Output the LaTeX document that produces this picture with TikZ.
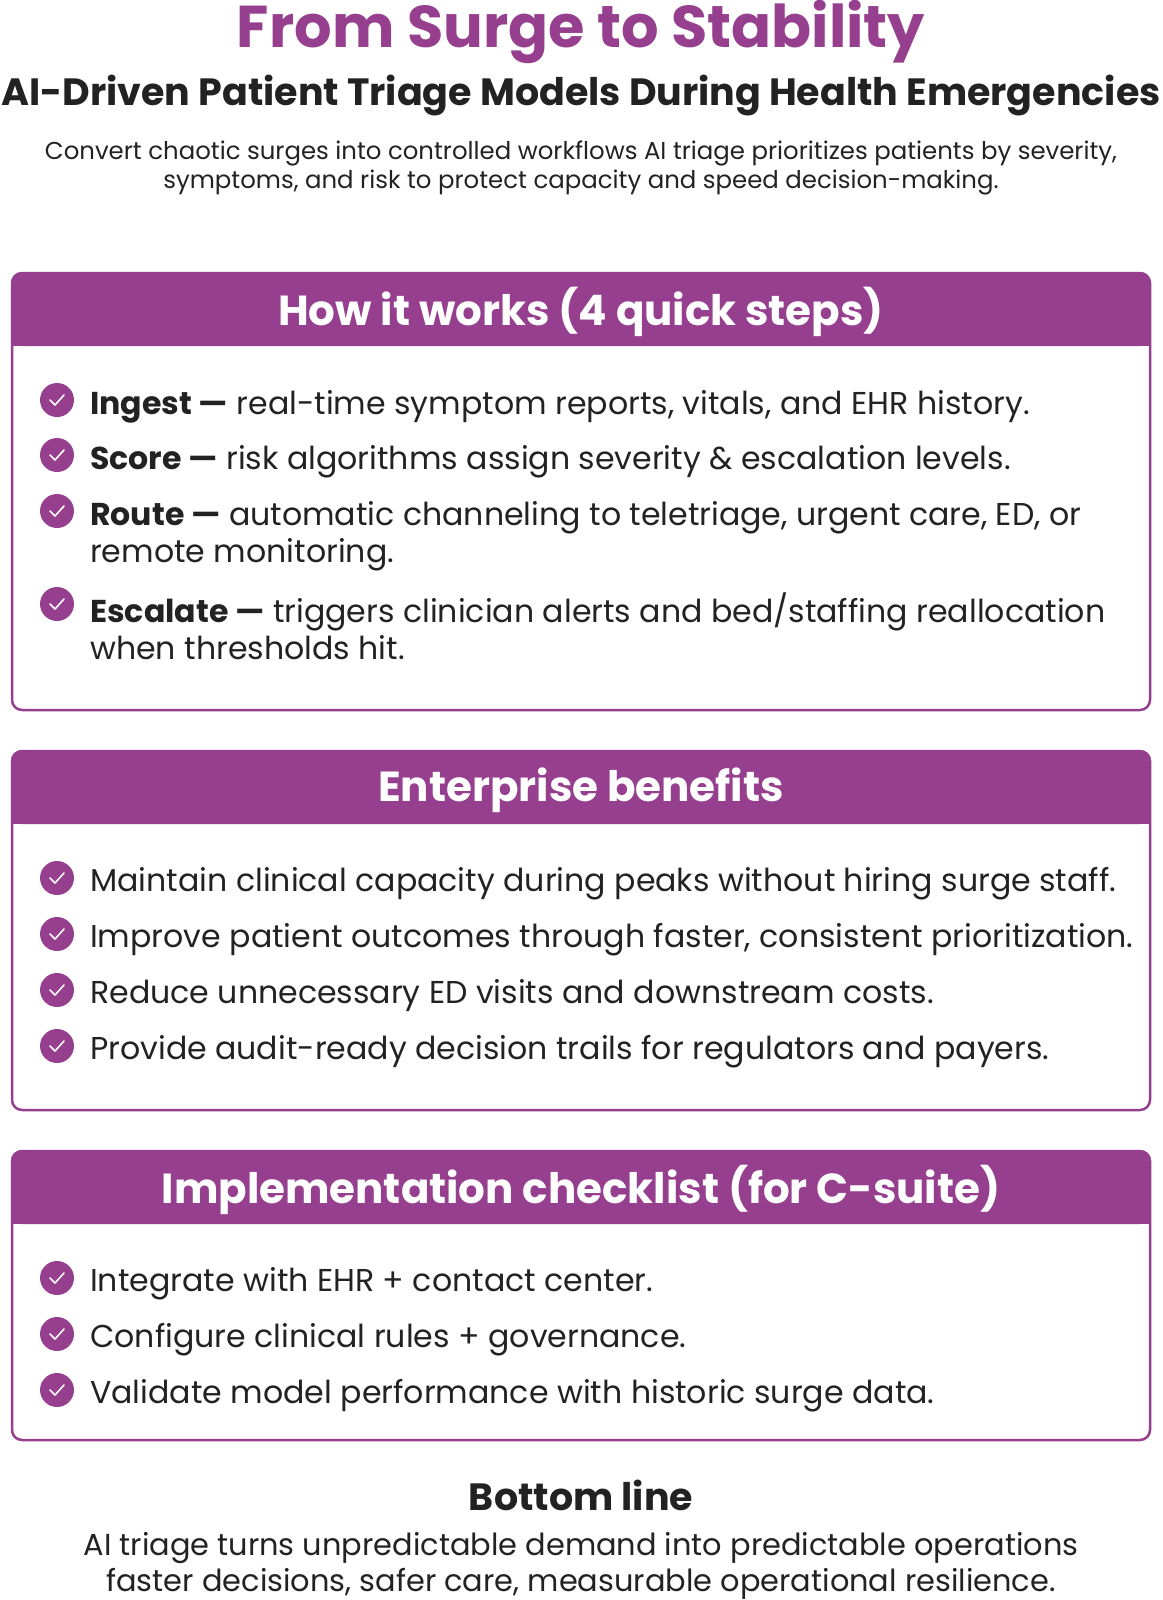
\documentclass[tikz,border=0pt]{standalone}
\usepackage{fontspec}
\setmainfont{Poppins}
\definecolor{pur}{HTML}{973F8F}
\definecolor{ink}{HTML}{222222}
\begin{document}
\begin{tikzpicture}[x=1pt,y=-1pt,
  box/.style={draw=pur,line width=2.5pt,rounded corners=10pt},
  head/.style={fill=pur,rounded corners=10pt},
  htext/.style={text=white,font=\fontsize{42}{50}\selectfont\bfseries},
  item/.style={anchor=west,align=left,text=ink,inner sep=0pt,font=\fontsize{31.6}{37}\selectfont},
  chk/.style={circle,fill=pur,minimum size=34pt,inner sep=0pt},
  tick/.style={white,line width=1.6pt,line cap=round,line join=round}]
\useasboundingbox (0,0) rectangle (1162,1600);
\node[text=pur,font=\fontsize{59}{70}\selectfont\bfseries] (t) at (581,32) {From Surge to Stability};
\node[text=ink,font=\fontsize{38}{44}\selectfont\bfseries] (st) at (581,96) {AI-Driven Patient Triage Models During Health Emergencies};
\node[text=ink,align=center,font=\fontsize{24.4}{29}\selectfont] (d) at (581,168) {Convert chaotic surges into controlled workflows AI triage prioritizes patients by severity,\\symptoms, and risk to protect capacity and speed decision-making.};
% box 1
\draw[box] (12,273) rectangle (1150,710);
\fill[head] (12,273) rectangle (1150,346);
\fill[pur] (13,330) rectangle (1149,346);
\node[htext] (h1) at (581,312) {How it works (4 quick steps)};
\foreach \y/\n in {400/a1,455/a2,511/a3,604/a4}{\node[chk] (\n) at (57,\y) {};
  \draw[tick] ([xshift=-7pt]\n.center) -- ([xshift=-2pt,yshift=-5pt]\n.center) -- ([xshift=7pt,yshift=5pt]\n.center);}
\node[item] (i1) at (90,407) {\textbf{Ingest —} real-time symptom reports, vitals, and EHR history.};
\node[item] (i2) at (90,462) {\textbf{Score —} risk algorithms assign severity \& escalation levels.};
\node[item] (i3) at (90,536) {\textbf{Route —} automatic channeling to teletriage, urgent care, ED, or\\remote monitoring.};
\node[item] (i4) at (90,626) {\textbf{Escalate —} triggers clinician alerts and bed/staffing reallocation\\when thresholds hit.};
% box 2
\draw[box] (12,751) rectangle (1150,1110);
\fill[head] (12,751) rectangle (1150,824);
\fill[pur] (13,808) rectangle (1149,824);
\node[htext] (h2) at (581,790) {Enterprise benefits};
\foreach \y/\n in {878/b1,934/b2,990/b3,1046/b4}{\node[chk] (\n) at (57,\y) {};
  \draw[tick] ([xshift=-7pt]\n.center) -- ([xshift=-2pt,yshift=-5pt]\n.center) -- ([xshift=7pt,yshift=5pt]\n.center);}
\node[item] (j1) at (90,884) {Maintain clinical capacity during peaks without hiring surge staff.};
\node[item] (j2) at (90,940) {Improve patient outcomes through faster, consistent prioritization.};
\node[item] (j3) at (90,996) {Reduce unnecessary ED visits and downstream costs.};
\node[item] (j4) at (90,1052) {Provide audit-ready decision trails for regulators and payers.};
% box 3
\draw[box] (12,1151) rectangle (1150,1440);
\fill[head] (12,1151) rectangle (1150,1224);
\fill[pur] (13,1208) rectangle (1149,1224);
\node[htext] (h3) at (581,1190) {Implementation checklist (for C-suite)};
\foreach \y/\n in {1278/c1,1334/c2,1390/c3}{\node[chk] (\n) at (57,\y) {};
  \draw[tick] ([xshift=-7pt]\n.center) -- ([xshift=-2pt,yshift=-5pt]\n.center) -- ([xshift=7pt,yshift=5pt]\n.center);}
\node[item] (k1) at (90,1284) {Integrate with EHR + contact center.};
\node[item] (k2) at (90,1340) {Configure clinical rules + governance.};
\node[item] (k3) at (90,1396) {Validate model performance with historic surge data.};
% bottom
\node[text=ink,font=\fontsize{38}{44}\selectfont\bfseries] (bl) at (581,1495) {Bottom line};
\node[text=ink,align=center,font=\fontsize{30.4}{36}\selectfont] (bt) at (581,1566) {AI triage turns unpredictable demand into predictable operations\\faster decisions, safer care, measurable operational resilience.};
\end{tikzpicture}
\end{document}
